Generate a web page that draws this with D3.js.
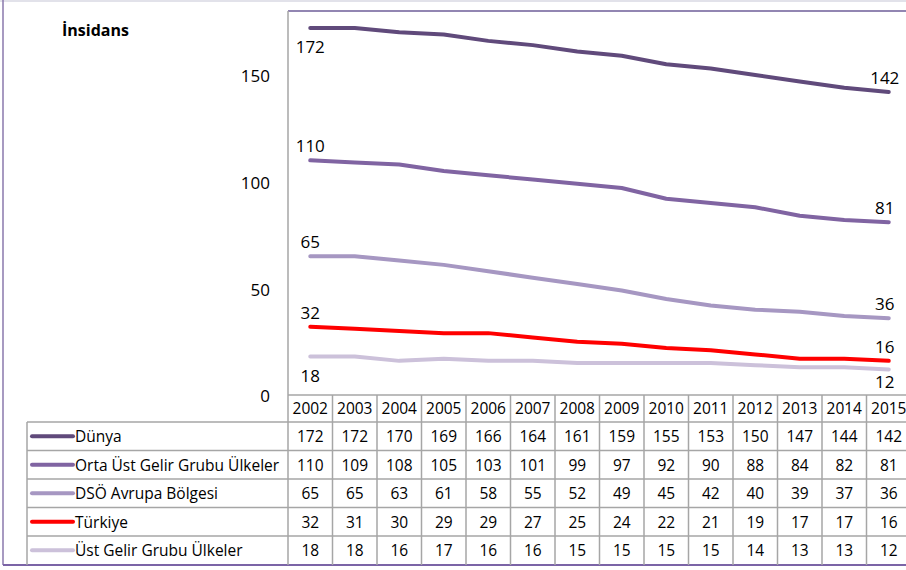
<!DOCTYPE html>
<html>
<head>
<meta charset="utf-8">
<script src="https://cdn.jsdelivr.net/npm/d3@7"></script>
<style>
  body{margin:0;background:#fff;}
  text{font-family:"Open Sans",sans-serif;fill:#000;}
</style>
</head>
<body>
<script>

var years=["2002","2003","2004","2005","2006","2007","2008","2009","2010","2011","2012","2013","2014","2015"];

var seriesNames=["Dünya","Orta Üst Gelir Grubu Ülkeler","DSÖ Avrupa Bölgesi","Türkiye","Üst Gelir Grubu Ülkeler"];

var dunya=[172,172,170,169,166,164,161,159,155,153,150,147,144,142];
var ortaUst=[110,109,108,105,103,101,99,97,92,90,88,84,82,81];
var dsoAvrupa=[65,65,63,61,58,55,52,49,45,42,40,39,37,36];
var turkiye=[32,31,30,29,29,27,25,24,22,21,19,17,17,16];
var ustGelir=[18,18,16,17,16,16,15,15,15,15,14,13,13,12];

var yTicks=[0,50,100,150];
var yTitle="İnsidans";

var colors=["#604a7b","#8064a2","#a697c2","#ff0000","#ccc1da"];
// label placement for first / last point ("a"=above, "b"=below)
var firstPos=["b","a","a","a","b"];
var lastPos=["a","a","a","a","b"];

var allValues=[dunya,ortaUst,dsoAvrupa,turkiye,ustGelir];

var width=906, height=570;
var plotLeft=288, plotTop=11, plotBottom=395;
var colW=44.5;
var rowH=28.5;
var headerTop=395, headerBottom=422;
var legendLeft=27;

var svg=d3.select("body").append("svg")
  .attr("width",width)
  .attr("height",height);

var x=d3.scaleBand()
  .domain(years)
  .range([plotLeft,plotLeft+colW*years.length])
  .padding(0);

var y=d3.scaleLinear()
  .domain([0,180])
  .range([plotBottom,plotTop]);

// outer frame
svg.append("line").attr("x1",0).attr("x2",width).attr("y1",1).attr("y2",1)
  .style("stroke","#d9d9e3").style("stroke-width",1.5);
svg.append("line").attr("x1",3).attr("x2",3).attr("y1",0).attr("y2",565)
  .style("stroke","#8a78ad").style("stroke-width",1.5);
svg.append("line").attr("x1",3).attr("x2",width).attr("y1",565).attr("y2",565)
  .style("stroke","#7b64a6").style("stroke-width",2);

// plot top border
svg.append("line").attr("x1",plotLeft).attr("x2",width).attr("y1",plotTop).attr("y2",plotTop)
  .style("stroke","#6e5e98").style("stroke-width",1.5);

// y axis
var yAxis=svg.append("g")
  .attr("transform","translate("+plotLeft+",0)")
  .call(d3.axisLeft(y).tickValues(yTicks).tickSize(0).tickPadding(18).tickFormat(d3.format("d")));
yAxis.select(".domain").remove();
yAxis.selectAll("text")
  .style("font-family","'Open Sans',sans-serif")
  .style("font-size","17px")
  .attr("dy","0.4em");

svg.append("text")
  .attr("x",62).attr("y",36)
  .style("font-weight","bold")
  .style("font-size","16px")
  .text(yTitle);

// table grid
var grid=svg.append("g").style("stroke","#a6a6a6").style("stroke-width",1.5);
var tableRight=x.range()[1];
var rowTops=seriesNames.map(function(d,i){return headerBottom+i*rowH;});

grid.append("line").attr("x1",plotLeft).attr("x2",tableRight).attr("y1",headerTop).attr("y2",headerTop);
grid.append("line").attr("x1",legendLeft).attr("x2",tableRight).attr("y1",headerBottom).attr("y2",headerBottom);
rowTops.forEach(function(t,i){
  if(i>0){
    grid.append("line").attr("x1",legendLeft).attr("x2",tableRight).attr("y1",t).attr("y2",t);
  }
});
grid.append("line").attr("x1",plotLeft).attr("x2",plotLeft).attr("y1",plotTop).attr("y2",565);
grid.append("line").attr("x1",legendLeft).attr("x2",legendLeft).attr("y1",headerBottom).attr("y2",565);
years.forEach(function(yr,i){
  if(i>0){
    grid.append("line").attr("x1",x(yr)).attr("x2",x(yr)).attr("y1",headerTop).attr("y2",565);
  }
});

// header years
svg.append("g").selectAll("text")
  .data(years)
  .enter().append("text")
  .attr("x",function(d){return x(d)+x.bandwidth()/2;})
  .attr("y",(headerTop+headerBottom)/2)
  .attr("dy","0.38em")
  .attr("text-anchor","middle")
  .style("font-size","15.5px")
  .text(function(d){return d;});

// table rows
seriesNames.forEach(function(name,i){
  var mid=rowTops[i]+rowH/2;
  var row=svg.append("g");
  row.append("line")
    .attr("x1",32).attr("x2",73).attr("y1",mid).attr("y2",mid)
    .style("stroke",colors[i]).style("stroke-width",4)
    .style("stroke-linecap","round");
  row.append("text")
    .attr("x",75).attr("y",mid).attr("dy","0.38em")
    .style("font-size","15.5px")
    .text(name);
  row.selectAll(".v")
    .data(allValues[i])
    .enter().append("text")
    .attr("class","v")
    .attr("x",function(d,j){return x(years[j])+x.bandwidth()/2;})
    .attr("y",mid).attr("dy","0.38em")
    .attr("text-anchor","middle")
    .style("font-size","15.5px")
    .text(function(d){return d;});
});

// lines
var line=d3.line()
  .x(function(d,j){return x(years[j])+x.bandwidth()/2;})
  .y(function(d){return y(d);});

var lines=svg.append("g");
allValues.slice().reverse().forEach(function(vals,k){
  var i=allValues.length-1-k;
  lines.append("path")
    .datum(vals)
    .attr("d",line)
    .style("fill","none")
    .style("stroke",colors[i])
    .style("stroke-width",4)
    .style("stroke-linecap","round")
    .style("stroke-linejoin","round");
});

// end labels
var labels=svg.append("g");
allValues.forEach(function(vals,i){
  var n=vals.length-1;
  var pts=[{j:0,v:vals[0],p:firstPos[i]},{j:n,v:vals[n],p:lastPos[i]}];
  pts.forEach(function(p){
    var cx=x(years[p.j])+x.bandwidth()/2;
    var cy=y(p.v);
    var dy;
    if(p.p==="a"){dy=-8;}
    else{dy=p.j===0?25:19;}
    labels.append("text")
      .attr("x",p.j===0?Math.max(cx,plotLeft+18):cx-4)
      .attr("y",cy+dy)
      .attr("text-anchor","middle")
      .style("font-size","17px")
      .text(p.v);
  });
});

</script>
</body>
</html>
